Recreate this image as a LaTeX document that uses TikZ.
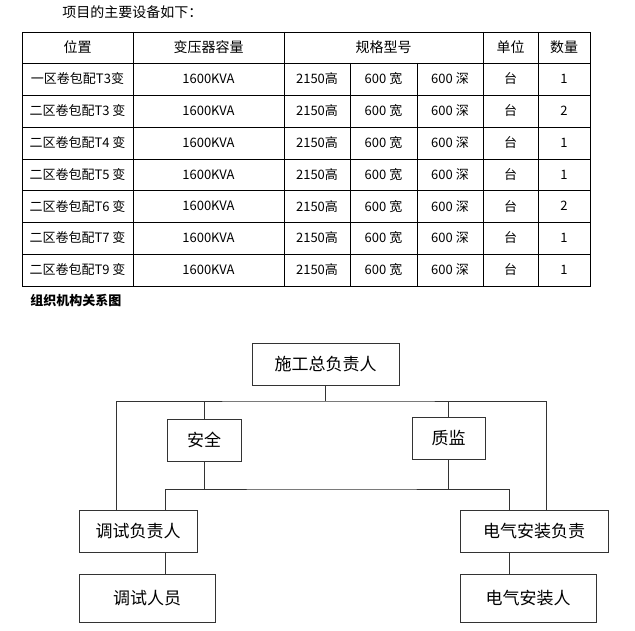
\documentclass[tikz,border=0pt]{standalone}
\usepackage{fontspec}
\setmainfont{Noto Sans CJK SC}
\usetikzlibrary{positioning}

\begin{document}
\begin{tikzpicture}[x=1pt, y=-1pt, thick,
    cell/.style={font=\fontsize{13}{13}\selectfont, inner sep=0pt},
    post/.style={draw=black!80, line width=0.7pt, minimum height=42pt, font=\fontsize{17}{17}\selectfont, inner sep=0pt},
    link/.style={draw=black!80, line width=0.7pt}]
				\useasboundingbox (0,0) rectangle (635,631);

				% table of equipment
				\node[cell, anchor=west, font=\fontsize{14}{14}\selectfont] (title) at (62,12) {项目的主要设备如下：};
				\draw[line width=0.8pt] (22,32) rectangle (590,286);
				\foreach \y in {63,95,127,159,190,222,254}
				  \draw[line width=0.8pt] (22,\y) -- (590,\y);
				\foreach \x in {133,284,483,538}
				  \draw[line width=0.8pt] (\x,32) -- (\x,286);
				\foreach \x in {350,417}
				  \draw[line width=0.8pt] (\x,63) -- (\x,286);

				\node[cell, font=\fontsize{14}{14}\selectfont] (h1) at (77.5,47.5) {位置};
				\node[cell, font=\fontsize{14}{14}\selectfont] (h2) at (208.5,47.5) {变压器容量};
				\node[cell, font=\fontsize{14}{14}\selectfont] (h3) at (383.5,47.5) {规格型号};
				\node[cell, font=\fontsize{14}{14}\selectfont] (h4) at (510.5,47.5) {单位};
				\node[cell, font=\fontsize{14}{14}\selectfont] (h5) at (564,47.5) {数量};

				\foreach \name/\num [count=\i] in {一区卷包配T3变/1, 二区卷包配T3 变/2, 二区卷包配T4 变/1,
				    二区卷包配T5 变/1, 二区卷包配T6 变/2, 二区卷包配T7 变/1, 二区卷包配T9 变/1} {
				  \pgfmathsetmacro{\yy}{79+31.8*(\i-1)}
				  \node[cell] (loc\i) at (77.5,\yy) {\name};
				  \node[cell] (kva\i) at (208.5,\yy) {1600KVA};
				  \node[cell] (hgt\i) at (317,\yy) {2150高};
				  \node[cell] (wid\i) at (383.5,\yy) {600 宽};
				  \node[cell] (dep\i) at (450,\yy) {600 深};
				  \node[cell] (unit\i) at (510.5,\yy) {台};
				  \node[cell] (num\i) at (564,\yy) {\num};
				}

				% organisation chart
				\node[cell, anchor=west, font=\fontsize{13}{13}\selectfont\bfseries] (chart) at (30,301) {组织机构关系图};

				\node[post, minimum width=147pt] (boss) at (325.5,364) {施工总负责人};
				\node[post, minimum width=74pt] (safe) at (204,440) {安全};
				\node[post, minimum width=73pt] (qual) at (448.5,438) {质监};
				\node[post, minimum width=118pt] (tlead) at (138,531.5) {调试负责人};
				\node[post, minimum width=148pt] (elead) at (534,531.5) {电气安装负责};
				\node[post, minimum width=136pt, minimum height=48pt] (tstaff) at (147,598) {调试人员};
				\node[post, minimum width=136pt, minimum height=48pt] (estaff) at (528,598) {电气安装人};

				\coordinate (top) at (325.5,401);
				\coordinate (mid) at (326,489);
				\draw[link] (boss) -- (top);
				\draw[link] (tlead.north -| 116,0) |- (top) -| (elead.north -| 546,0);
				\draw[link] (safe.north) -- (safe.north |- top);
				\draw[link] (qual.north) -- (qual.north |- top);
				\draw[link] (safe.south) -- (safe.south |- mid);
				\draw[link] (qual.south) -- (qual.south |- mid);
				\draw[link] (tlead.north -| 165,0) |- (mid) -| (elead.north -| 509,0);
				\draw[link] (tlead.south -| 165,0) -- (tstaff.north -| 165,0);
				\draw[link] (elead.south -| 509,0) -- (estaff.north -| 509,0);
			\end{tikzpicture}
\end{document}
